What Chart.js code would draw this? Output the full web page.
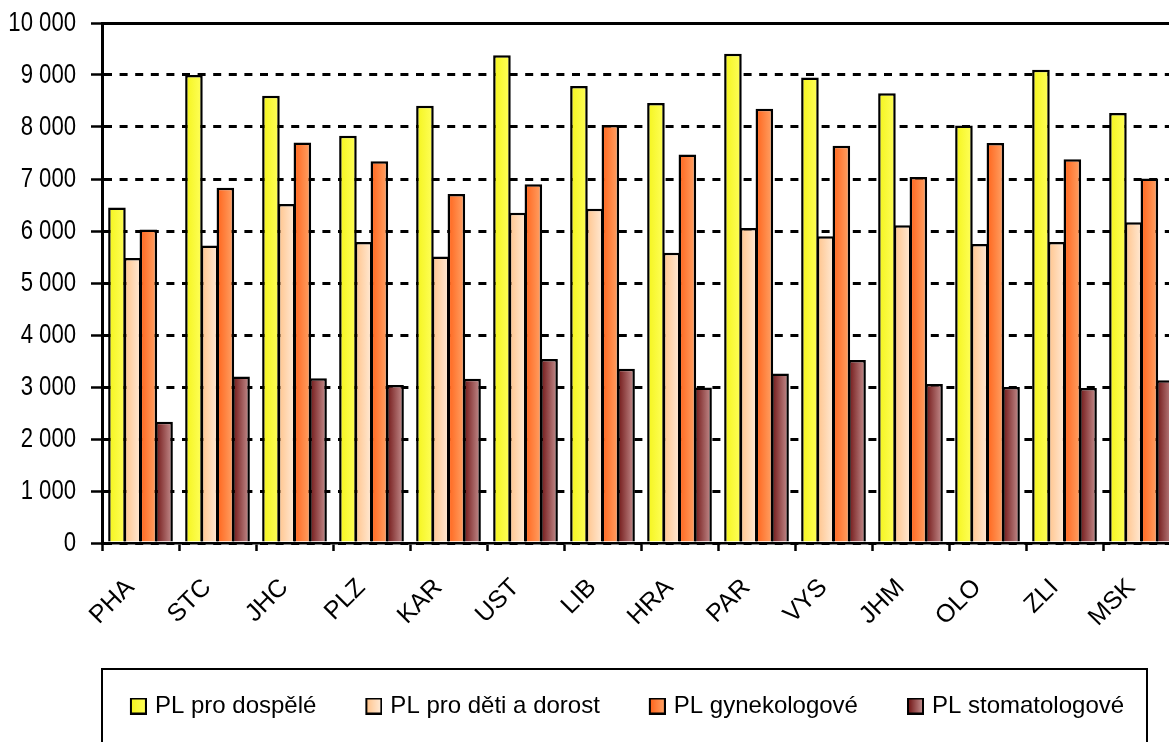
<!DOCTYPE html>
<html>
<head>
<meta charset="utf-8">
<script src="https://cdn.jsdelivr.net/npm/chart.js@4.4.0/dist/chart.umd.min.js"></script>
<style>
  html, body { margin: 0; padding: 0; background: #fff; overflow: hidden; }
  #obal { width: 1185px; height: 742px; }
</style>
</head>
<body>
<div id="obal"><canvas id="graf" width="1185" height="742"></canvas></div>
<script>
// Data (počet obyvatel na 1 lékaře)
const kraje = ["PHA", "STC", "JHC", "PLZ", "KAR", "UST", "LIB", "HRA", "PAR", "VYS", "JHM", "OLO", "ZLI", "MSK"];
const dospeli = [6450, 9000, 8600, 7830, 8410, 9380, 8790, 8460, 9410, 8950, 8650, 8030, 9100, 8270];
const deti = [5480, 5720, 6520, 5790, 5510, 6350, 6430, 5580, 6060, 5900, 6110, 5750, 5790, 6170];
const gynekologove = [6030, 6830, 7700, 7340, 6710, 6900, 8040, 7470, 8350, 7640, 7040, 7690, 7380, 7010];
const stomatologove = [2330, 3200, 3170, 3040, 3160, 3540, 3350, 2990, 3260, 3520, 3060, 3000, 2980, 3130];
const popisky = ["PL pro dospělé", "PL pro děti a dorost", "PL gynekologové", "PL stomatologové"];
const osaMax = 10000;
const osaKrok = 1000;

// barvy přechodů (vlevo, vpravo)
const barvy = [
  ["#F4F41C", "#FFFF5C"],
  ["#FFC38A", "#FFEBD8"],
  ["#FF631A", "#FFA468"],
  ["#6E1212", "#C69292"]
];

Chart.defaults.font.family = "'Liberation Sans', Arial, sans-serif";
Chart.defaults.color = "#000";

// Arial Narrow tu není - popisky osy Y (28px) zúžíme ručně
const puvodniFillText = CanvasRenderingContext2D.prototype.fillText;
CanvasRenderingContext2D.prototype.fillText = function (t, x, y, mw) {
  if (this.font.indexOf("28px") === -1) return puvodniFillText.call(this, t, x, y, mw);
  this.save();
  this.translate(x, y);
  this.scale(0.79, 1);
  puvodniFillText.call(this, t, 0, 0);
  this.restore();
};

// ikonka do legendy - čtvereček je vpravo, aby seděl u textu
function ikona(b) {
  const cv = document.createElement("canvas");
  cv.width = 45; cv.height = 17;
  const g = cv.getContext("2d");
  const gr = g.createLinearGradient(29, 0, 44, 0);
  gr.addColorStop(0, b[0]); gr.addColorStop(1, b[1]);
  g.fillStyle = gr;
  g.fillRect(29, 1, 15, 15);
  g.lineWidth = 2;
  g.strokeStyle = "#000";
  g.strokeRect(29, 1, 15, 15);
  return cv;
}
const ikony = barvy.map(ikona);

const prechody = {
  id: "prechody",
  beforeDatasetsDraw(chart) {
    chart.data.datasets.forEach((ds, i) => {
      chart.getDatasetMeta(i).data.forEach((el) => {
        const l = el.x - el.width / 2, r = el.x + el.width / 2;
        const g = chart.ctx.createLinearGradient(l, 0, r, 0);
        g.addColorStop(0, barvy[i][0]);
        g.addColorStop(1, barvy[i][1]);
        el.options = Object.assign({}, el.options, { backgroundColor: g });
      });
    });
  }
};

const legendaRamecek = {
  id: "legendaRamecek",
  beforeDraw(chart) {
    const lg = chart.legend;
    lg.left = 60; lg.right = 1170; lg.top = 669; lg.bottom = 760;
  },
  afterDraw(chart) {
    const c = chart.ctx;
    c.save();
    c.strokeStyle = "#000";
    c.lineWidth = 2;
    c.strokeRect(102, 669, 1045, 100);
    c.restore();
  }
};

const rady = [dospeli, deti, gynekologove, stomatologove];

new Chart(document.getElementById("graf"), {
  type: "bar",
  data: {
    labels: kraje,
    datasets: rady.map((d, i) => ({
      label: popisky[i],
      data: d,
      backgroundColor: barvy[i][1],
      borderColor: "#000",
      borderWidth: 2.5,
      categoryPercentage: 0.816,
      barPercentage: 1.12
    }))
  },
  options: {
    responsive: false,
    animation: false,
    layout: { padding: { top: 23, right: 5, left: 0, bottom: 0 } },
    plugins: {
      tooltip: { enabled: false },
      legend: {
        position: "bottom",
        labels: {
          usePointStyle: true,
          pointStyleWidth: 37,
          boxHeight: 17,
          padding: 25,
          color: "#000",
          font: { size: 24 },
          generateLabels: (chart) => chart.data.datasets.map((ds, i) => ({
            text: ds.label,
            pointStyle: ikony[i],
            fillStyle: barvy[i][1],
            strokeStyle: "#000",
            lineWidth: 0,
            hidden: false,
            datasetIndex: i,
            fontColor: "#000"
          }))
        }
      }
    },
    scales: {
      x: {
        afterFit: (s) => { s.height = 140; s.paddingLeft = 0; s.paddingRight = 0; },
        grid: {
          drawOnChartArea: false,
          drawTicks: true,
          tickLength: 8,
          tickColor: "#000",
          tickWidth: 2.5
        },
        border: { color: "#000", width: 2.5 },
        ticks: {
          autoSkip: false,
          maxRotation: 45,
          minRotation: 45,
          padding: 22,
          labelOffset: -10,
          font: { size: 25 }
        }
      },
      y: {
        min: 0,
        max: osaMax,
        afterFit: (s) => { s.width = 102; s.paddingTop = 0; s.paddingBottom = 0; },
        grid: {
          color: "#000",
          lineWidth: 3,
          tickLength: 11,
          tickColor: "#000",
          tickWidth: 2.5
        },
        border: {
          color: "#000",
          width: 3,
          dash: (ctx) => (ctx.tick && ctx.tick.value === osaMax ? [] : [8, 7.6])
        },
        ticks: {
          stepSize: osaKrok,
          padding: 15,
          font: { size: 28 },
          callback: (v) => String(v).replace(/\B(?=(\d{3})+(?!\d))/g, " ")
        }
      }
    }
  },
  plugins: [prechody, legendaRamecek]
});
</script>
</body>
</html>
